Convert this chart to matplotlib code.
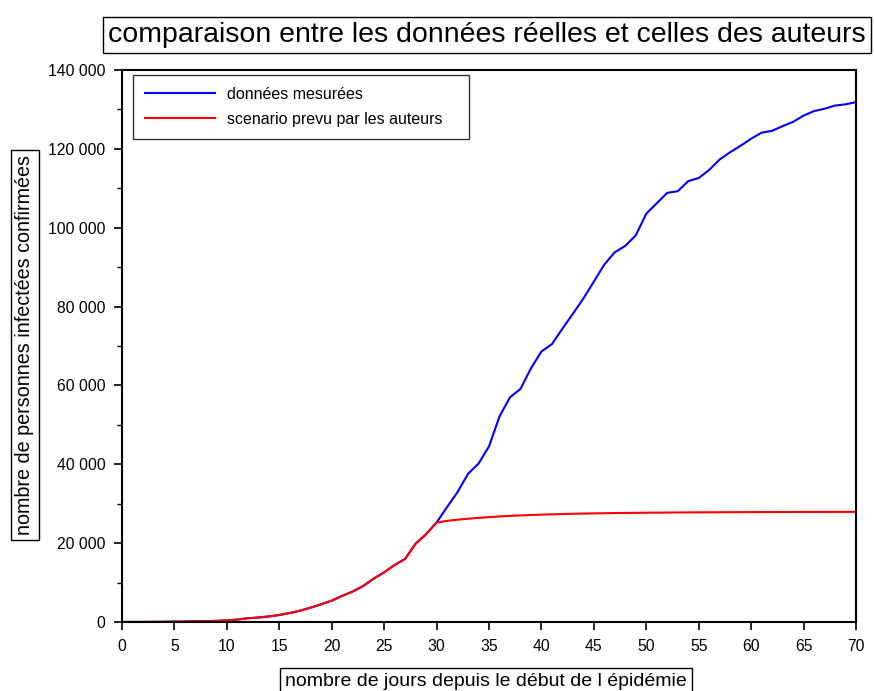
import matplotlib
matplotlib.use('Agg')
import matplotlib.pyplot as plt
from matplotlib.ticker import MultipleLocator, FuncFormatter

plt.rcParams['font.family'] = ['Liberation Sans', 'DejaVu Sans']

# ---- data ----
jours = list(range(71))
mesures = [12, 14, 18, 38, 57, 100, 130, 190, 210, 285,
           420, 610, 950, 1130, 1410, 1780, 2280, 2880, 3660, 4500,
           5420, 6630, 7730, 9130, 11000, 12610, 14460, 16020, 19860, 22300,
           25230, 29150, 32960, 37580, 40170, 44550, 52130, 56990, 59110, 64340,
           68610, 70480, 74390, 78170, 82050, 86330, 90680, 93790, 95400, 98080,
           103570, 106210, 108850, 109250, 111820, 112610, 114660, 117320, 119150, 120800,
           122580, 124110, 124580, 125770, 126840, 128440, 129580, 130180, 130980, 131290,
           131860]

jours_projection = list(range(30, 71))
projection = [25230, 25650, 25950, 26200, 26420, 26610, 26770, 26910, 27030, 27140,
              27230, 27310, 27380, 27440, 27500, 27550, 27590, 27630, 27660, 27690,
              27720, 27740, 27760, 27780, 27800, 27810, 27830, 27840, 27850, 27860,
              27870, 27880, 27890, 27895, 27900, 27910, 27915, 27920, 27925, 27930,
              27935]

# scenario: identical to measures until day 30, then the authors' projection
scenario_x = jours[:31] + jours_projection[1:]
scenario_y = mesures[:31] + projection[1:]

x_ticks = list(range(0, 71, 5))
y_ticks = list(range(0, 140001, 20000))

titre = "comparaison entre les données réelles et celles des auteurs"
xlabel = "nombre de jours depuis le début de l épidémie"
ylabel = "nombre de personnes infectées confirmées"

W, H = 874, 691
fig = plt.figure(figsize=(W / 100, H / 100), dpi=100)
ax = fig.add_axes([122 / W, (H - 622) / H, (856 - 122) / W, (622 - 70) / H])

ax.plot(jours, mesures, color='#0000ff', lw=1.5, label='données mesurées')
ax.plot(scenario_x, scenario_y, color='#ff0000', lw=1.5, label='scenario prevu par les auteurs')

ax.set_xlim(0, 70)
ax.set_ylim(0, 140000)
ax.set_xticks(x_ticks)
ax.set_yticks(y_ticks)
ax.yaxis.set_minor_locator(MultipleLocator(10000))
ax.yaxis.set_major_formatter(FuncFormatter(lambda v, p: f"{int(v):,}".replace(",", " ")))

for s in ax.spines.values():
    s.set_linewidth(1.5)
    s.set_color('black')

ax.tick_params(axis='both', which='major', direction='out', length=6, width=1.2,
               labelsize=11.3, top=False, right=False)
ax.tick_params(axis='y', which='major', pad=6)
ax.tick_params(axis='x', which='major', pad=6)
ax.tick_params(axis='y', which='minor', direction='out', length=3.5, width=1.0)

lx0 = (133 - 122) / 734
lx1 = (469 - 122) / 734
ly1 = (622 - 75) / 552
ly0 = (622 - 140) / 552
leg = ax.legend(loc='upper left', bbox_to_anchor=(lx0, ly0, lx1 - lx0, ly1 - ly0),
                mode='expand', borderaxespad=0, fontsize=11.5, frameon=True,
                fancybox=False, edgecolor='black', handlelength=4.4,
                handletextpad=0.75, labelspacing=0.6, borderpad=0.75)
leg.get_frame().set_linewidth(1.0)

fig.text(108 / W, 1 - 35 / H, titre, fontsize=20.5, ha='left', va='center',
         bbox=dict(boxstyle='square,pad=0.18', fc='white', ec='black', lw=1.0))
fig.text(25 / W, 1 - 345 / H, ylabel, fontsize=14.2, rotation=90, ha='center', va='center',
         bbox=dict(boxstyle='square,pad=0.25', fc='white', ec='black', lw=1.0))
fig.text(285 / W, 1 - 681 / H, xlabel, fontsize=14, ha='left', va='center',
         bbox=dict(boxstyle='square,pad=0.25', fc='white', ec='black', lw=1.0))

fig.savefig('out.png', dpi=100)
